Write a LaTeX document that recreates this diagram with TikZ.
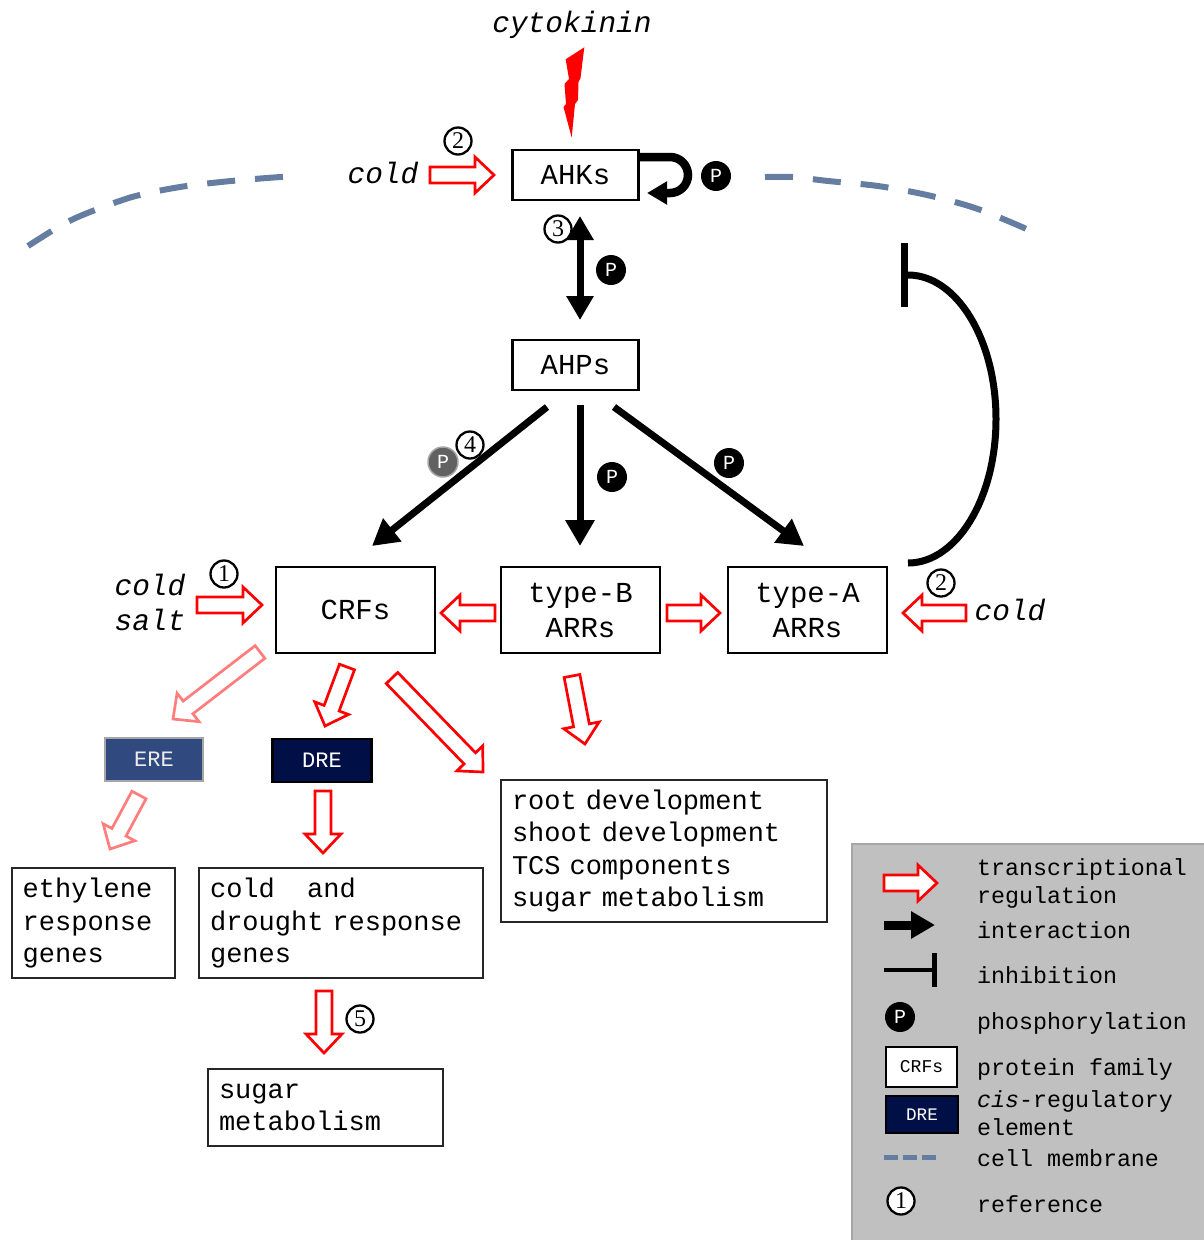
\documentclass[tikz,border=0pt]{standalone}
\usepackage{fontspec}
\setmainfont{Liberation Mono}
\newfontfamily\serifnum{Liberation Serif}
\usetikzlibrary{arrows.meta,calc}
\definecolor{memb}{RGB}{100,125,160}
\definecolor{lred}{RGB}{255,125,125}
\definecolor{erec}{RGB}{48,74,128}
\definecolor{drec}{RGB}{0,16,70}
\definecolor{leggray}{RGB}{192,192,192}
\def\tasw{8pt}\def\tahw{18pt}\def\tahl{19pt}
\newcommand{\tarrow}[3][tr]{%
  \coordinate (ta) at (#2);
  \coordinate (tb) at (#3);
  \coordinate (tm) at ($(tb)!\tahl!(ta)$);
  \draw[#1] ($(ta)!\tasw!90:(tb)$) -- ($(tm)!\tasw!90:(tb)$) -- ($(tm)!\tahw!90:(tb)$) -- (tb)
     -- ($(tm)!\tahw!-90:(tb)$) -- ($(tm)!\tasw!-90:(tb)$) -- ($(ta)!\tasw!-90:(tb)$) -- cycle;
}
\begin{document}
\begin{tikzpicture}[x=1pt,y=-1pt,
  prot/.style={draw, line width=2.7pt, align=center, inner sep=0pt, font=\fontsize{29}{35}\selectfont},
  gene/.style={draw=black!85, line width=1.8pt, align=left, inner xsep=11pt, inner ysep=0pt, font=\fontsize{27}{32.5}\selectfont},
  elem/.style={line width=2pt, inner sep=0pt, font=\fontsize{22}{22}\selectfont},
  tr/.style={draw=red, line width=2.7pt, fill=white, line join=miter},
  trl/.style={draw=lred, line width=2.7pt, fill=white, line join=miter},
  ia/.style={line width=7pt, -{Triangle[length=26pt,width=28pt]}},
  pc/.style={circle, fill=black, text=white, minimum size=30pt, inner sep=0pt, font=\fontsize{20}{20}\selectfont},
  refc/.style={circle, draw, line width=2.3pt, fill=white, minimum size=27pt, inner sep=0pt, font=\serifnum\fontsize{24}{24}\selectfont},
  lbl/.style={font=\itshape\fontsize{29.5}{30}\selectfont, inner sep=0pt},
  legt/.style={font=\fontsize{23.3}{28}\selectfont, inner sep=0pt, anchor=base west},
  memline/.style={line width=6pt, draw=memb, dash pattern=on 28pt off 20pt}
]
\useasboundingbox (0,0) rectangle (1203,1240);

% membrane
\draw[memline] plot[smooth] coordinates {(28,246) (60,226) (85,214) (132,197) (180,187) (231,181) (281,177) (295,177)};
\draw[memline] plot[smooth] coordinates {(765,177) (793,177) (828,181) (878,186) (927,195) (975,208) (1022,227) (1035,234)};

% labels
\node[lbl, anchor=base] (cyto) at (572,32) {cytokinin};
\node[lbl, anchor=base] (coldT) at (383,183) {cold};
\node[lbl, anchor=base] (coldL) at (150,595) {cold};
\node[lbl, anchor=base] (saltL) at (150,630) {salt};
\node[lbl, anchor=base] (coldR) at (1010,620) {cold};

% lightning
\fill[red] (584.3,47.3) -- (565.7,59.3) -- (569,79) -- (564.5,84) -- (566,104) -- (563.5,107) -- (571.7,137.5) -- (575,104) -- (578,100) -- (578.5,82) -- (580.5,78) -- cycle;

% protein boxes
\node[prot, minimum width=125.6pt, minimum height=50pt] (ahk) at (575.5,175) {AHKs};
\node[prot, minimum width=125.6pt, minimum height=50pt] (ahp) at (575.5,365) {AHPs};
\node[prot, minimum width=159pt, minimum height=86pt] (crf) at (355.5,610) {CRFs};
\node[prot, minimum width=159pt, minimum height=86pt] (typeB) at (580.5,610) {type-B\\ARRs};
\node[prot, minimum width=159pt, minimum height=86pt] (typeA) at (807.5,610) {type-A\\ARRs};

% elements
\node[elem, fill=erec, draw=gray!70, text=gray!15, minimum width=98pt, minimum height=43pt] (ere) at (154,759.5) {ERE};
\node[elem, fill=drec, draw=black, line width=2.7pt, text=white, minimum width=99pt, minimum height=43pt] (dre) at (322,760.5) {DRE};

% gene boxes
\node[gene, minimum width=163.3pt, text width=141.3pt, minimum height=110pt] (eth) at (93.4,923) {ethylene\\response\\genes};
\node[gene, minimum width=284.3pt, text width=262.3pt, minimum height=110pt] (cdg) at (341.2,923) {cold\hspace*{32.4pt}and\\drought response\\genes};
\node[gene, minimum width=326pt, text width=304pt, minimum height=142pt] (root) at (664,851) {root development\\shoot development\\TCS components\\sugar metabolism};
\node[gene, minimum width=235pt, text width=213pt, minimum height=77pt] (sug) at (325.5,1107.5) {sugar\\metabolism};

% reference circles (under arrows)
\node[refc] (r3) at (558,229) {3};

% self loop
\coordinate (loopA) at (640,157);
\coordinate (loopB) at (670,157);
\coordinate (loopC) at (647,193);
\draw[line width=8.5pt, -{Triangle[length=20pt,width=22pt]}] (loopA) -- (loopB) arc[start angle=-90, end angle=90, radius=18] -- (loopC);

% black interaction arrows
\coordinate (dA) at (580,216); \coordinate (dB) at (580,320);
\draw[line width=7pt, {Triangle[length=24pt,width=26pt]}-{Triangle[length=24pt,width=26pt]}] (dA) -- (dB);
\coordinate (a1s) at (547,407); \coordinate (a1e) at (372,546);
\coordinate (a2s) at (580,405); \coordinate (a2e) at (580,546);
\coordinate (a3s) at (614,407); \coordinate (a3e) at (804,546);
\draw[ia] (a1s) -- (a1e);
\draw[ia] (a2s) -- (a2e);
\draw[ia] (a3s) -- (a3e);

% inhibition
\coordinate (inhTop) at (908,275);
\coordinate (barT) at (904.5,243); \coordinate (barB) at (904.5,307);
\draw[line width=7pt] (inhTop) arc[start angle=-90, end angle=90, x radius=88, y radius=144];
\draw[line width=7.5pt] (barT) -- (barB);

% transcriptional arrows
\coordinate (t1a) at (430,175); \coordinate (t1b) at (494,175);
\tarrow{t1a}{t1b}
\coordinate (t2a) at (197,605); \coordinate (t2b) at (262,605);
\tarrow{t2a}{t2b}
\coordinate (t3a) at (495,613); \coordinate (t3b) at (441,613);
\tarrow{t3a}{t3b}
\coordinate (t4a) at (667,613); \coordinate (t4b) at (720,613);
\tarrow{t4a}{t4b}
\coordinate (t5a) at (966,613); \coordinate (t5b) at (903,613);
\tarrow{t5a}{t5b}
\coordinate (t6a) at (260,652); \coordinate (t6b) at (173,719);
\tarrow[trl]{t6a}{t6b}
\coordinate (t7a) at (347,667); \coordinate (t7b) at (325,726);
\tarrow{t7a}{t7b}
\coordinate (t8a) at (392,678); \coordinate (t8b) at (483,772);
\tarrow{t8a}{t8b}
\coordinate (t9a) at (572,676); \coordinate (t9b) at (585,744);
\tarrow{t9a}{t9b}
\coordinate (t10a) at (139,795); \coordinate (t10b) at (110,849);
\tarrow[trl]{t10a}{t10b}
\coordinate (t11a) at (323,791); \coordinate (t11b) at (323,853);
\tarrow{t11a}{t11b}
\coordinate (t12a) at (324,991); \coordinate (t12b) at (324,1053);
\tarrow{t12a}{t12b}

% P circles
\node[pc] (p1) at (716,176) {P};
\node[pc] (p2) at (611,270) {P};
\node[pc, fill=black!62, draw=black!35, line width=1.5pt] (p3) at (443,462) {P};
\node[pc] (p4) at (612,477) {P};
\node[pc] (p5) at (729,463) {P};

% reference circles
\node[refc] (r2a) at (458,141) {2};
\node[refc] (r4) at (470,445) {4};
\node[refc] (r1) at (224,574) {1};
\node[refc] (r2b) at (941,583) {2};
\node[refc] (r5) at (360,1019) {5};

% legend
\node[fill=leggray, draw=black!35, line width=2pt, minimum width=370pt, minimum height=420pt, anchor=north west, inner sep=0pt] (leg) at (851,843) {};
\coordinate (l1a) at (884,883); \coordinate (l1b) at (937,883);
\tarrow{l1a}{l1b}
\coordinate (l2a) at (884,925); \coordinate (l2b) at (935,925);
\draw[line width=9pt, -{Triangle[length=24pt,width=26pt]}] (l2a) -- (l2b);
\coordinate (l3a) at (884,970); \coordinate (l3b) at (934,970);
\coordinate (l3t) at (934,953); \coordinate (l3u) at (934,987);
\draw[line width=4pt] (l3a) -- (l3b);
\draw[line width=5pt] (l3t) -- (l3u);
\node[pc] (lp) at (900,1017) {P};
\node[draw, fill=white, line width=2.7pt, minimum width=71pt, minimum height=40pt, inner sep=0pt, font=\fontsize{18}{18}\selectfont] (lcrf) at (921.5,1067) {CRFs};
\node[draw=black, fill=drec, text=white, line width=2.7pt, minimum width=72pt, minimum height=37pt, inner sep=0pt, font=\fontsize{17.6}{18}\selectfont] (ldre) at (922,1114.5) {DRE};
\coordinate (l4a) at (884,1157); \coordinate (l4b) at (937,1157);
\draw[line width=5pt, draw=memb, dash pattern=on 14pt off 5pt] (l4a) -- (l4b);
\node[refc] (lr) at (901,1201) {1};

\node[legt] (lt1) at (977,875) {transcriptional};
\node[legt] (lt2) at (977,903) {regulation};
\node[legt] (lt3) at (977,938) {interaction};
\node[legt] (lt4) at (977,983) {inhibition};
\node[legt] (lt5) at (977,1029) {phosphorylation};
\node[legt] (lt6) at (977,1075) {protein family};
\node[legt] (lt7) at (977,1107) {{\itshape cis}-regulatory};
\node[legt] (lt8) at (977,1135) {element};
\node[legt] (lt9) at (977,1166) {cell membrane};
\node[legt] (lt10) at (977,1212) {reference};
\end{tikzpicture}
\end{document}
